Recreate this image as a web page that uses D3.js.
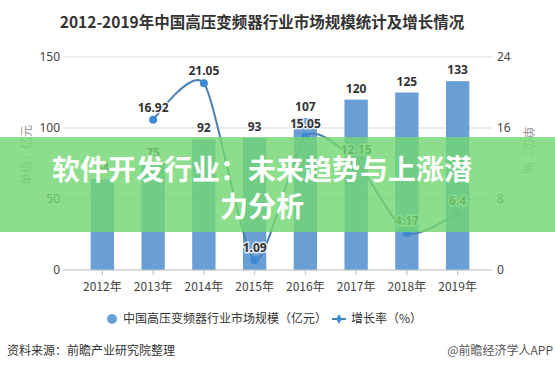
<!DOCTYPE html>
<html>
<head>
	<meta charset="utf-8">
	<script src="https://cdn.jsdelivr.net/npm/d3@7/dist/d3.min.js"></script>
	<style type="text/css">
		body { margin: 0; padding: 0; background: #fff; }
		svg { display: block; font-family: "Noto Sans CJK SC", "Microsoft YaHei", sans-serif; }
	</style>
</head>
<body>
	<script type="text/javascript">

		// chart data
		var years = ["2012年","2013年","2014年","2015年","2016年","2017年","2018年","2019年"];
		var market = [64, 75, 92, 93, 107, 120, 125, 133];
		var growth = [null, 16.92, 21.05, 1.09, 15.05, 12.15, 4.17, 6.4];
		var leftTicks = [0, 50, 100, 150];
		var rightTicks = [0, 8, 16, 24];

		var W = 555, H = 371;
		var svg = d3.select("body").append("svg").attr("width", W).attr("height", H);

		// scales
		var x = d3.scaleBand().domain(years).range([77, 483]).paddingInner(0.54).paddingOuter(0.27);
		var yL = d3.scaleLinear().domain([0, 150]).range([270, 57]);
		var yR = d3.scaleLinear().domain([0, 24]).range([270, 57]);

		// title
		svg.append("text").attr("x", 262).attr("y", 28).attr("text-anchor", "middle")
			.style("font-size", "15.5px").style("font-weight", "bold").style("fill", "#333")
			.text("2012-2019年中国高压变频器行业市场规模统计及增长情况");

		// grid lines
		svg.append("g").selectAll("line").data(leftTicks.slice(1)).enter().append("line")
			.attr("x1", 63).attr("x2", 492)
			.attr("y1", function(d){ return yL(d); }).attr("y2", function(d){ return yL(d); })
			.style("stroke", "#d9d9d9").style("stroke-width", 1);

		// left axis
		var gl = svg.append("g").attr("transform", "translate(63,0)")
			.call(d3.axisLeft(yL).tickValues(leftTicks).tickSize(0).tickPadding(3));
		gl.select(".domain").remove();
		gl.selectAll("text").style("font-size", "12px").style("fill", "#444").style("font-family", "Noto Sans, sans-serif");

		// right axis
		var gr = svg.append("g").attr("transform", "translate(492,0)")
			.call(d3.axisRight(yR).tickValues(rightTicks).tickSize(0).tickPadding(5));
		gr.select(".domain").remove();
		gr.selectAll("text").style("font-size", "12px").style("fill", "#444").style("font-family", "Noto Sans, sans-serif");

		// axis unit labels
		svg.append("text").attr("transform", "translate(31,155) rotate(-90)").attr("text-anchor", "middle")
			.style("font-size", "12px").style("fill", "#999").text("单位：亿元");
		svg.append("text").attr("transform", "translate(524,150) rotate(90)").attr("text-anchor", "middle")
			.style("font-size", "12px").style("fill", "#999").text("单位：%");

		// bars
		svg.append("g").selectAll("rect").data(market).enter().append("rect")
			.attr("x", function(d, i){ return x(years[i]); })
			.attr("width", x.bandwidth())
			.attr("y", function(d){ return yL(d); })
			.attr("height", function(d){ return yL(0) - yL(d); })
			.style("fill", "#6a9fd6");

		// x axis
		var gx = svg.append("g").attr("transform", "translate(0,270)");
		gx.append("line").attr("x1", 63).attr("x2", 492).style("stroke", "#bbb");
		gx.selectAll("line.tk").data(years).enter().append("line").attr("class", "tk")
			.attr("x1", function(d){ return x(d) + x.bandwidth() / 2; })
			.attr("x2", function(d){ return x(d) + x.bandwidth() / 2; })
			.attr("y1", 0).attr("y2", 5).style("stroke", "#bbb");
		gx.selectAll("text").data(years).enter().append("text")
			.attr("x", function(d){ return x(d) + x.bandwidth() / 2; })
			.attr("y", 21).attr("text-anchor", "middle")
			.style("font-size", "12px").style("fill", "#444").text(function(d){ return d; });

		// bar value labels
		svg.append("g").selectAll("text").data(market).enter().append("text")
			.attr("x", function(d, i){ return x(years[i]) + x.bandwidth() / 2; })
			.attr("y", function(d){ return yL(d) - 7; })
			.attr("text-anchor", "middle")
			.style("font-size", "12px").style("font-weight", "bold").style("fill", "#333")
			.style("font-family", "Noto Sans, sans-serif")
			.text(function(d){ return d; });

		// growth line
		var pts = [];
		growth.forEach(function(d, i){ if (d != null) pts.push({ x: x(years[i]) + x.bandwidth() / 2, y: yR(d), v: d }); });
		var line = d3.line().x(function(d){ return d.x; }).y(function(d){ return d.y; }).curve(d3.curveCardinal.tension(0.3));
		svg.append("path").datum(pts).attr("d", line)
			.style("fill", "none").style("stroke", "#4a80b0").style("stroke-width", 2);
		svg.append("g").selectAll("circle").data(pts).enter().append("circle")
			.attr("cx", function(d){ return d.x; }).attr("cy", function(d){ return d.y; }).attr("r", 4)
			.style("fill", "#3d8bd4");
		svg.append("g").selectAll("text").data(pts).enter().append("text")
			.attr("x", function(d){ return d.x; }).attr("y", function(d){ return d.y - 8; })
			.attr("text-anchor", "middle")
			.style("font-size", "12px").style("font-weight", "bold").style("fill", "#333")
			.style("font-family", "Noto Sans, sans-serif")
			.style("paint-order", "stroke").style("stroke", "rgba(255,255,255,0.8)").style("stroke-width", 3)
			.text(function(d){ return d.v; });

		// legend
		var lg = svg.append("g");
		lg.append("circle").attr("cx", 112).attr("cy", 319).attr("r", 5).style("fill", "#6a9fd6");
		lg.append("text").attr("x", 123).attr("y", 323).style("font-size", "12px").style("fill", "#333")
			.text("中国高压变频器行业市场规模（亿元）");
		lg.append("line").attr("x1", 332).attr("x2", 346).attr("y1", 319).attr("y2", 319)
			.style("stroke", "#4a80b0").style("stroke-width", 2);
		lg.append("path").attr("d", d3.symbol().type(d3.symbolDiamond).size(28)).attr("transform", "translate(339,319)")
			.style("fill", "#3d8bd4");
		lg.append("text").attr("x", 351).attr("y", 323).style("font-size", "12px").style("fill", "#333")
			.text("增长率（%）");

		// source
		svg.append("text").attr("x", 7).attr("y", 355).style("font-size", "12px").style("fill", "#333")
			.text("资料来源：前瞻产业研究院整理");
		svg.append("text").attr("x", 553).attr("y", 355).attr("text-anchor", "end").style("font-size", "12px").style("fill", "#555")
			.text("@前瞻经济学人APP");

		// green banner overlay
		svg.append("rect").attr("x", 0).attr("y", 137).attr("width", W).attr("height", 95)
			.style("fill", "rgb(115,215,115)").style("opacity", 0.82);
		svg.append("text").attr("x", 262).attr("y", 180).attr("text-anchor", "middle")
			.style("font-size", "28px").style("font-weight", "bold").style("fill", "#fff")
			.text("软件开发行业：未来趋势与上涨潜");
		svg.append("text").attr("x", 262).attr("y", 217).attr("text-anchor", "middle")
			.style("font-size", "28px").style("font-weight", "bold").style("fill", "#fff")
			.text("力分析");

	</script>
</body>
</html>
